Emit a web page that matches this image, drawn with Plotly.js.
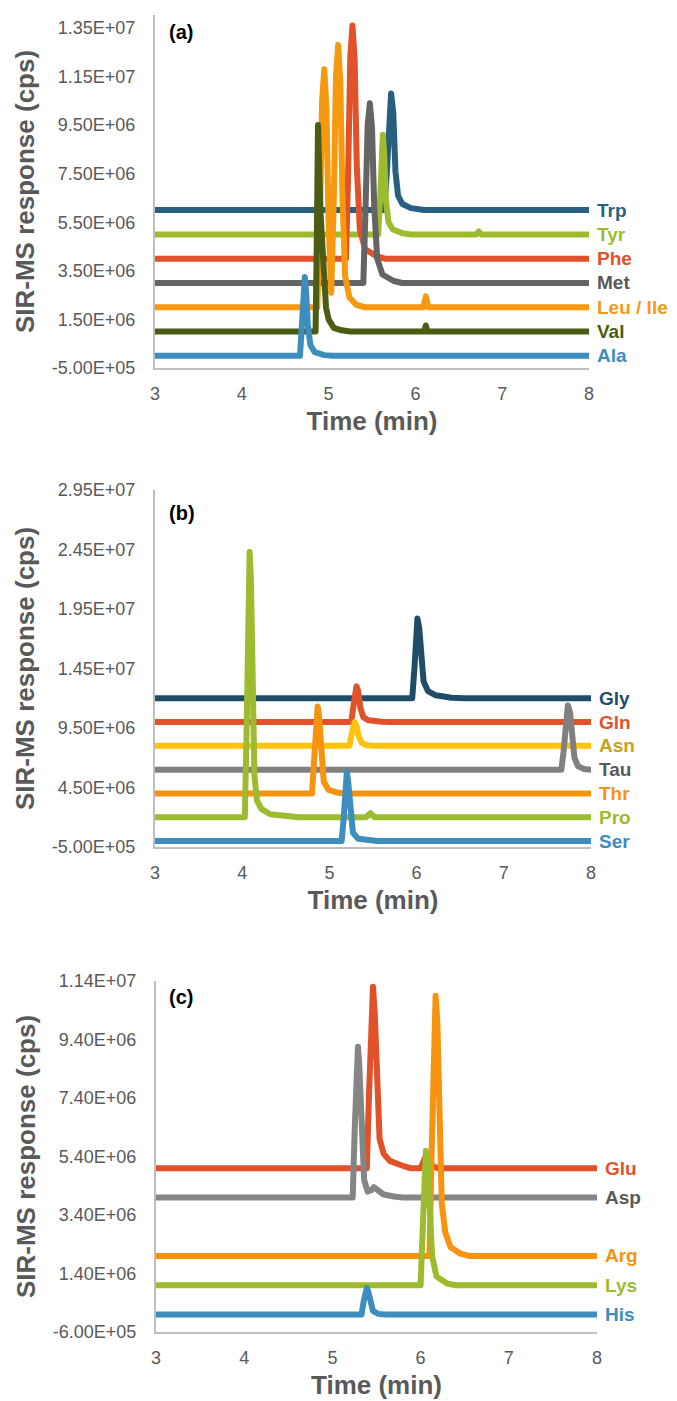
<!DOCTYPE html>
<html>
<head>
<meta charset="utf-8">
<script src="https://cdn.plot.ly/plotly-3.0.1.min.js"></script>
<style>
  html, body { margin: 0; padding: 0; background: #ffffff; }
  #chart { width: 677px; height: 1401px; }
  #chart .scatterlayer .js-line { stroke-linejoin: round !important; stroke-linecap: round !important; }
</style>
</head>
<body>
<div id="chart"></div>
<script>
// ---------------- Panel (a) data (time in min, response in cps) ----------------
const tTrp = [3, 5.64, 5.67, 5.695, 5.72, 5.745, 5.77, 5.80, 5.85, 5.95, 6.10, 8];
const yTrp = [6.0e6, 6.0e6, 7.5e6, 9.9e6, 10.8e6, 10.0e6, 7.6e6, 6.6e6, 6.25e6, 6.08e6, 6.0e6, 6.0e6];
const tTyr = [3, 5.57, 5.595, 5.61, 5.625, 5.64, 5.66, 5.69, 5.74, 5.85, 5.95, 6.70, 6.73, 6.76, 8];
const yTyr = [5.0e6, 5.0e6, 6.6e6, 8.4e6, 9.1e6, 8.3e6, 6.4e6, 5.5e6, 5.2e6, 5.05e6, 5.0e6, 5.0e6, 5.12e6, 5.0e6, 5.0e6];
const tPhe = [3, 5.20, 5.225, 5.25, 5.275, 5.30, 5.325, 5.36, 5.42, 5.55, 5.65, 8];
const yPhe = [4.0e6, 4.0e6, 7.5e6, 12.3e6, 13.6e6, 12.2e6, 7.8e6, 5.2e6, 4.4e6, 4.1e6, 4.0e6, 4.0e6];
const tMet = [3, 5.40, 5.425, 5.45, 5.475, 5.50, 5.525, 5.56, 5.62, 5.75, 5.85, 8];
const yMet = [3.0e6, 3.0e6, 6.0e6, 9.5e6, 10.4e6, 9.4e6, 6.2e6, 4.0e6, 3.35e6, 3.08e6, 3.0e6, 3.0e6];
const tLeu = [3, 4.87, 4.90, 4.925, 4.95, 4.975, 5.0, 5.03, 5.06, 5.085, 5.11, 5.135, 5.16, 5.19, 5.24, 5.32, 5.42, 6.09, 6.11, 6.12, 6.13, 6.15, 8];
const yLeu = [2.0e6, 2.0e6, 5.5e6, 10.5e6, 11.8e6, 10.2e6, 5.5e6, 2.6e6, 6.5e6, 11.5e6, 12.8e6, 11.3e6, 6.5e6, 3.3e6, 2.4e6, 2.1e6, 2.0e6, 2.0e6, 2.3e6, 2.45e6, 2.3e6, 2.0e6, 2.0e6];
const tVal = [3, 4.85, 4.865, 4.878, 4.89, 4.905, 4.925, 4.945, 4.97, 5.0, 5.06, 5.15, 5.25, 6.10, 6.12, 6.14, 8];
const yVal = [1.0e6, 1.0e6, 5.0e6, 9.5e6, 8.0e6, 6.0e6, 5.0e6, 3.2e6, 2.0e6, 1.5e6, 1.15e6, 1.05e6, 1.0e6, 1.0e6, 1.25e6, 1.0e6, 1.0e6];
const tAla = [3, 4.67, 4.695, 4.71, 4.725, 4.74, 4.76, 4.79, 4.84, 4.95, 5.05, 8];
const yAla = [0, 0, 1.4e6, 2.8e6, 3.25e6, 2.7e6, 1.3e6, 0.45e6, 0.15e6, 0.03e6, 0, 0];

// ---------------- Panel (b) data ----------------
const tGly = [3, 5.95, 5.975, 5.995, 6.01, 6.03, 6.05, 6.08, 6.13, 6.22, 6.40, 6.55, 8];
const yGly = [12.0e6, 12.0e6, 14.5e6, 17.8e6, 18.7e6, 17.9e6, 15.5e6, 13.4e6, 12.6e6, 12.25e6, 12.05e6, 12.0e6, 12.0e6];
const tGln = [3, 5.25, 5.275, 5.295, 5.31, 5.33, 5.355, 5.39, 5.45, 5.60, 5.70, 8];
const yGln = [10.0e6, 10.0e6, 11.3e6, 12.7e6, 13.0e6, 12.6e6, 11.2e6, 10.4e6, 10.15e6, 10.03e6, 10.0e6, 10.0e6];
const tAsn = [3, 5.23, 5.255, 5.275, 5.29, 5.31, 5.335, 5.37, 5.43, 5.52, 8];
const yAsn = [8.0e6, 8.0e6, 9.0e6, 9.8e6, 10.0e6, 9.7e6, 8.8e6, 8.25e6, 8.05e6, 8.0e6, 8.0e6];
const tTau = [3, 7.66, 7.685, 7.71, 7.735, 7.76, 7.785, 7.81, 7.85, 7.92, 8];
const yTau = [6.0e6, 6.0e6, 7.5e6, 10.3e6, 11.4e6, 10.8e6, 8.8e6, 7.0e6, 6.3e6, 6.05e6, 6.0e6];
const tThr = [3, 4.80, 4.825, 4.85, 4.865, 4.88, 4.905, 4.935, 4.99, 5.10, 5.20, 8];
const yThr = [4.0e6, 4.0e6, 6.8e6, 10.5e6, 11.3e6, 10.6e6, 7.5e6, 5.0e6, 4.3e6, 4.05e6, 4.0e6, 4.0e6];
const tPro = [3, 4.03, 4.05, 4.07, 4.085, 4.10, 4.12, 4.14, 4.17, 4.22, 4.32, 4.50, 4.65, 5.42, 5.47, 5.52, 8];
const yPro = [2.0e6, 2.0e6, 9.0e6, 21.0e6, 24.3e6, 22.0e6, 12.0e6, 5.5e6, 3.4e6, 2.7e6, 2.25e6, 2.08e6, 2.0e6, 2.0e6, 2.35e6, 2.0e6, 2.0e6];
const tSer = [3, 5.14, 5.165, 5.185, 5.20, 5.215, 5.24, 5.27, 5.33, 5.45, 5.55, 8];
const ySer = [0, 0, 2.0e6, 4.9e6, 5.8e6, 5.0e6, 2.3e6, 0.7e6, 0.2e6, 0.04e6, 0, 0];

// ---------------- Panel (c) data ----------------
const tGlu = [3, 5.39, 5.415, 5.44, 5.46, 5.48, 5.505, 5.535, 5.58, 5.65, 5.78, 5.88, 6.0, 6.04, 6.07, 6.10, 6.14, 6.20, 8];
const yGlu = [5.0e6, 5.0e6, 7.5e6, 10.4e6, 11.2e6, 10.3e6, 7.5e6, 6.0e6, 5.5e6, 5.25e6, 5.1e6, 5.0e6, 5.0e6, 5.3e6, 5.5e6, 5.3e6, 5.05e6, 5.0e6, 5.0e6];
const tAsp = [3, 5.23, 5.255, 5.275, 5.29, 5.305, 5.33, 5.36, 5.40, 5.44, 5.47, 5.51, 5.58, 5.70, 5.80, 8];
const yAsp = [4.0e6, 4.0e6, 6.5e6, 8.6e6, 9.15e6, 8.5e6, 6.0e6, 4.6e6, 4.2e6, 4.25e6, 4.35e6, 4.25e6, 4.1e6, 4.03e6, 4.0e6, 4.0e6];
const tArg = [3, 6.10, 6.125, 6.15, 6.17, 6.19, 6.215, 6.24, 6.28, 6.34, 6.45, 6.55, 8];
const yArg = [2.0e6, 2.0e6, 5.5e6, 9.8e6, 10.9e6, 10.0e6, 6.5e6, 3.8e6, 2.8e6, 2.3e6, 2.08e6, 2.0e6, 2.0e6];
const tLys = [3, 6.0, 6.025, 6.045, 6.06, 6.08, 6.10, 6.13, 6.18, 6.30, 6.40, 8];
const yLys = [1.0e6, 1.0e6, 3.0e6, 5.2e6, 5.6e6, 5.3e6, 3.8e6, 2.0e6, 1.3e6, 1.06e6, 1.0e6, 1.0e6];
const tHis = [3, 5.33, 5.355, 5.375, 5.39, 5.405, 5.43, 5.46, 5.52, 5.60, 8];
const yHis = [0, 0, 0.45e6, 0.82e6, 0.9e6, 0.8e6, 0.4e6, 0.12e6, 0.02e6, 0, 0];

// ---------------- Tick labels ----------------
const ticksA = [-5e5, 1.5e6, 3.5e6, 5.5e6, 7.5e6, 9.5e6, 1.15e7, 1.35e7];
const labelsA = ["-5.00E+05", "1.50E+06", "3.50E+06", "5.50E+06", "7.50E+06", "9.50E+06", "1.15E+07", "1.35E+07"];
const ticksB = [-5e5, 4.5e6, 9.5e6, 1.45e7, 1.95e7, 2.45e7, 2.95e7];
const labelsB = ["-5.00E+05", "4.50E+06", "9.50E+06", "1.45E+07", "1.95E+07", "2.45E+07", "2.95E+07"];
const ticksC = [-6e5, 1.4e6, 3.4e6, 5.4e6, 7.4e6, 9.4e6, 1.14e7];
const labelsC = ["-6.00E+05", "1.40E+06", "3.40E+06", "5.40E+06", "7.40E+06", "9.40E+06", "1.14E+07"];
const timeTicks = [3, 4, 5, 6, 7, 8];

// ---------------- Series definitions (lowest baseline drawn last, on top) ----------------
const seriesA = [
  {name: "Trp", t: tTrp, y: yTrp, color: "#265F80", text: "#265F80"},
  {name: "Tyr", t: tTyr, y: yTyr, color: "#9DBB2F", text: "#9DBB2F"},
  {name: "Phe", t: tPhe, y: yPhe, color: "#E1522B", text: "#E1522B"},
  {name: "Met", t: tMet, y: yMet, color: "#646464", text: "#595959"},
  {name: "Leu / Ile", t: tLeu, y: yLeu, color: "#F7990E", text: "#F39A1C"},
  {name: "Val", t: tVal, y: yVal, color: "#4B5D14", text: "#4B5D14"},
  {name: "Ala", t: tAla, y: yAla, color: "#3D8DBF", text: "#3D8DBF"}
];
const seriesB = [
  {name: "Gly", t: tGly, y: yGly, color: "#1F4D68", text: "#1F4D68"},
  {name: "Gln", t: tGln, y: yGln, color: "#E1522B", text: "#E1522B"},
  {name: "Asn", t: tAsn, y: yAsn, color: "#FFC20E", text: "#C9A11A"},
  {name: "Tau", t: tTau, y: yTau, color: "#808080", text: "#595959"},
  {name: "Thr", t: tThr, y: yThr, color: "#F7930F", text: "#F7930F"},
  {name: "Pro", t: tPro, y: yPro, color: "#9DBB2F", text: "#9DBB2F"},
  {name: "Ser", t: tSer, y: ySer, color: "#3D8DBF", text: "#3D8DBF"}
];
const seriesC = [
  {name: "Glu", t: tGlu, y: yGlu, color: "#E1522B", text: "#E1522B"},
  {name: "Asp", t: tAsp, y: yAsp, color: "#858585", text: "#595959"},
  {name: "Arg", t: tArg, y: yArg, color: "#F7930F", text: "#F7930F"},
  {name: "Lys", t: tLys, y: yLys, color: "#9DBB2F", text: "#9DBB2F"},
  {name: "His", t: tHis, y: yHis, color: "#3D8DBF", text: "#3D8DBF"}
];

const W = 677, H = 1401;
const FONT = "Liberation Sans, Arial, Helvetica, sans-serif";
const GRAY = "#595959";

const panels = [
  {s: seriesA, xa: "x",  ya: "y",  x0: 155, x1: 589, top: 15,  bot: 368,  range: [-5e5, 1.403e7], tv: ticksA, tt: labelsA, tag: "(a)", tagY: 32},
  {s: seriesB, xa: "x2", ya: "y2", x0: 155, x1: 591, top: 490, bot: 847,  range: [-5e5, 2.95e7],  tv: ticksB, tt: labelsB, tag: "(b)", tagY: 513},
  {s: seriesC, xa: "x3", ya: "y3", x0: 156, x1: 597, top: 981, bot: 1332, range: [-6e5, 1.14e7],  tv: ticksC, tt: labelsC, tag: "(c)", tagY: 997}
];

const traces = [];
const annotations = [];
const layout = {
  width: W, height: H,
  margin: {l: 0, r: 0, t: 0, b: 0},
  paper_bgcolor: "#ffffff",
  plot_bgcolor: "#ffffff",
  showlegend: false,
  font: {family: FONT, color: GRAY},
  annotations: annotations
};

panels.forEach((p, i) => {
  const sfx = i === 0 ? "" : String(i + 1);
  p.s.forEach(ser => {
    traces.push({
      type: "scatter", mode: "lines", name: ser.name,
      x: ser.t, y: ser.y, xaxis: p.xa, yaxis: p.ya,
      line: {color: ser.color, width: 6, shape: "linear"},
      hoverinfo: "x+y+name"
    });
    annotations.push({
      xref: p.xa, yref: p.ya, x: 8, y: ser.y[ser.y.length - 1],
      xanchor: "left", yanchor: "middle", xshift: 6,
      text: ser.name, showarrow: false,
      font: {family: FONT, size: 19, color: ser.text, weight: "bold"}
    });
  });
  annotations.push({
    xref: "paper", yref: "paper", x: 167 / W, y: 1 - p.tagY / H,
    xanchor: "left", yanchor: "middle", text: p.tag, showarrow: false,
    font: {family: FONT, size: 20, color: "#000000", weight: "bold"}
  });
  layout["xaxis" + sfx] = {
    domain: [p.x0 / W, p.x1 / W], anchor: p.ya, range: [3, 8],
    tickvals: timeTicks, ticks: "", showgrid: false, zeroline: false,
    showline: true, linecolor: "#BFBFBF", linewidth: 2,
    tickfont: {family: FONT, size: 18, color: GRAY},
    ticklabelstandoff: 8,
    title: {text: "Time (min)", standoff: 9, font: {family: FONT, size: 26, color: GRAY, weight: "bold"}}
  };
  layout["yaxis" + sfx] = {
    domain: [1 - p.bot / H, 1 - p.top / H], anchor: p.xa, range: p.range,
    tickvals: p.tv, ticktext: p.tt, ticks: "", showgrid: false, zeroline: false,
    showline: true, linecolor: "#BFBFBF", linewidth: 2,
    tickfont: {family: FONT, size: 18, color: GRAY},
    ticklabelstandoff: 14,
    title: {text: "SIR-MS response (cps)", standoff: 10, font: {family: FONT, size: 26, color: GRAY, weight: "bold"}}
  };
});

Plotly.newPlot("chart", traces, layout, {displayModeBar: false, staticPlot: true});
</script>
</body>
</html>
